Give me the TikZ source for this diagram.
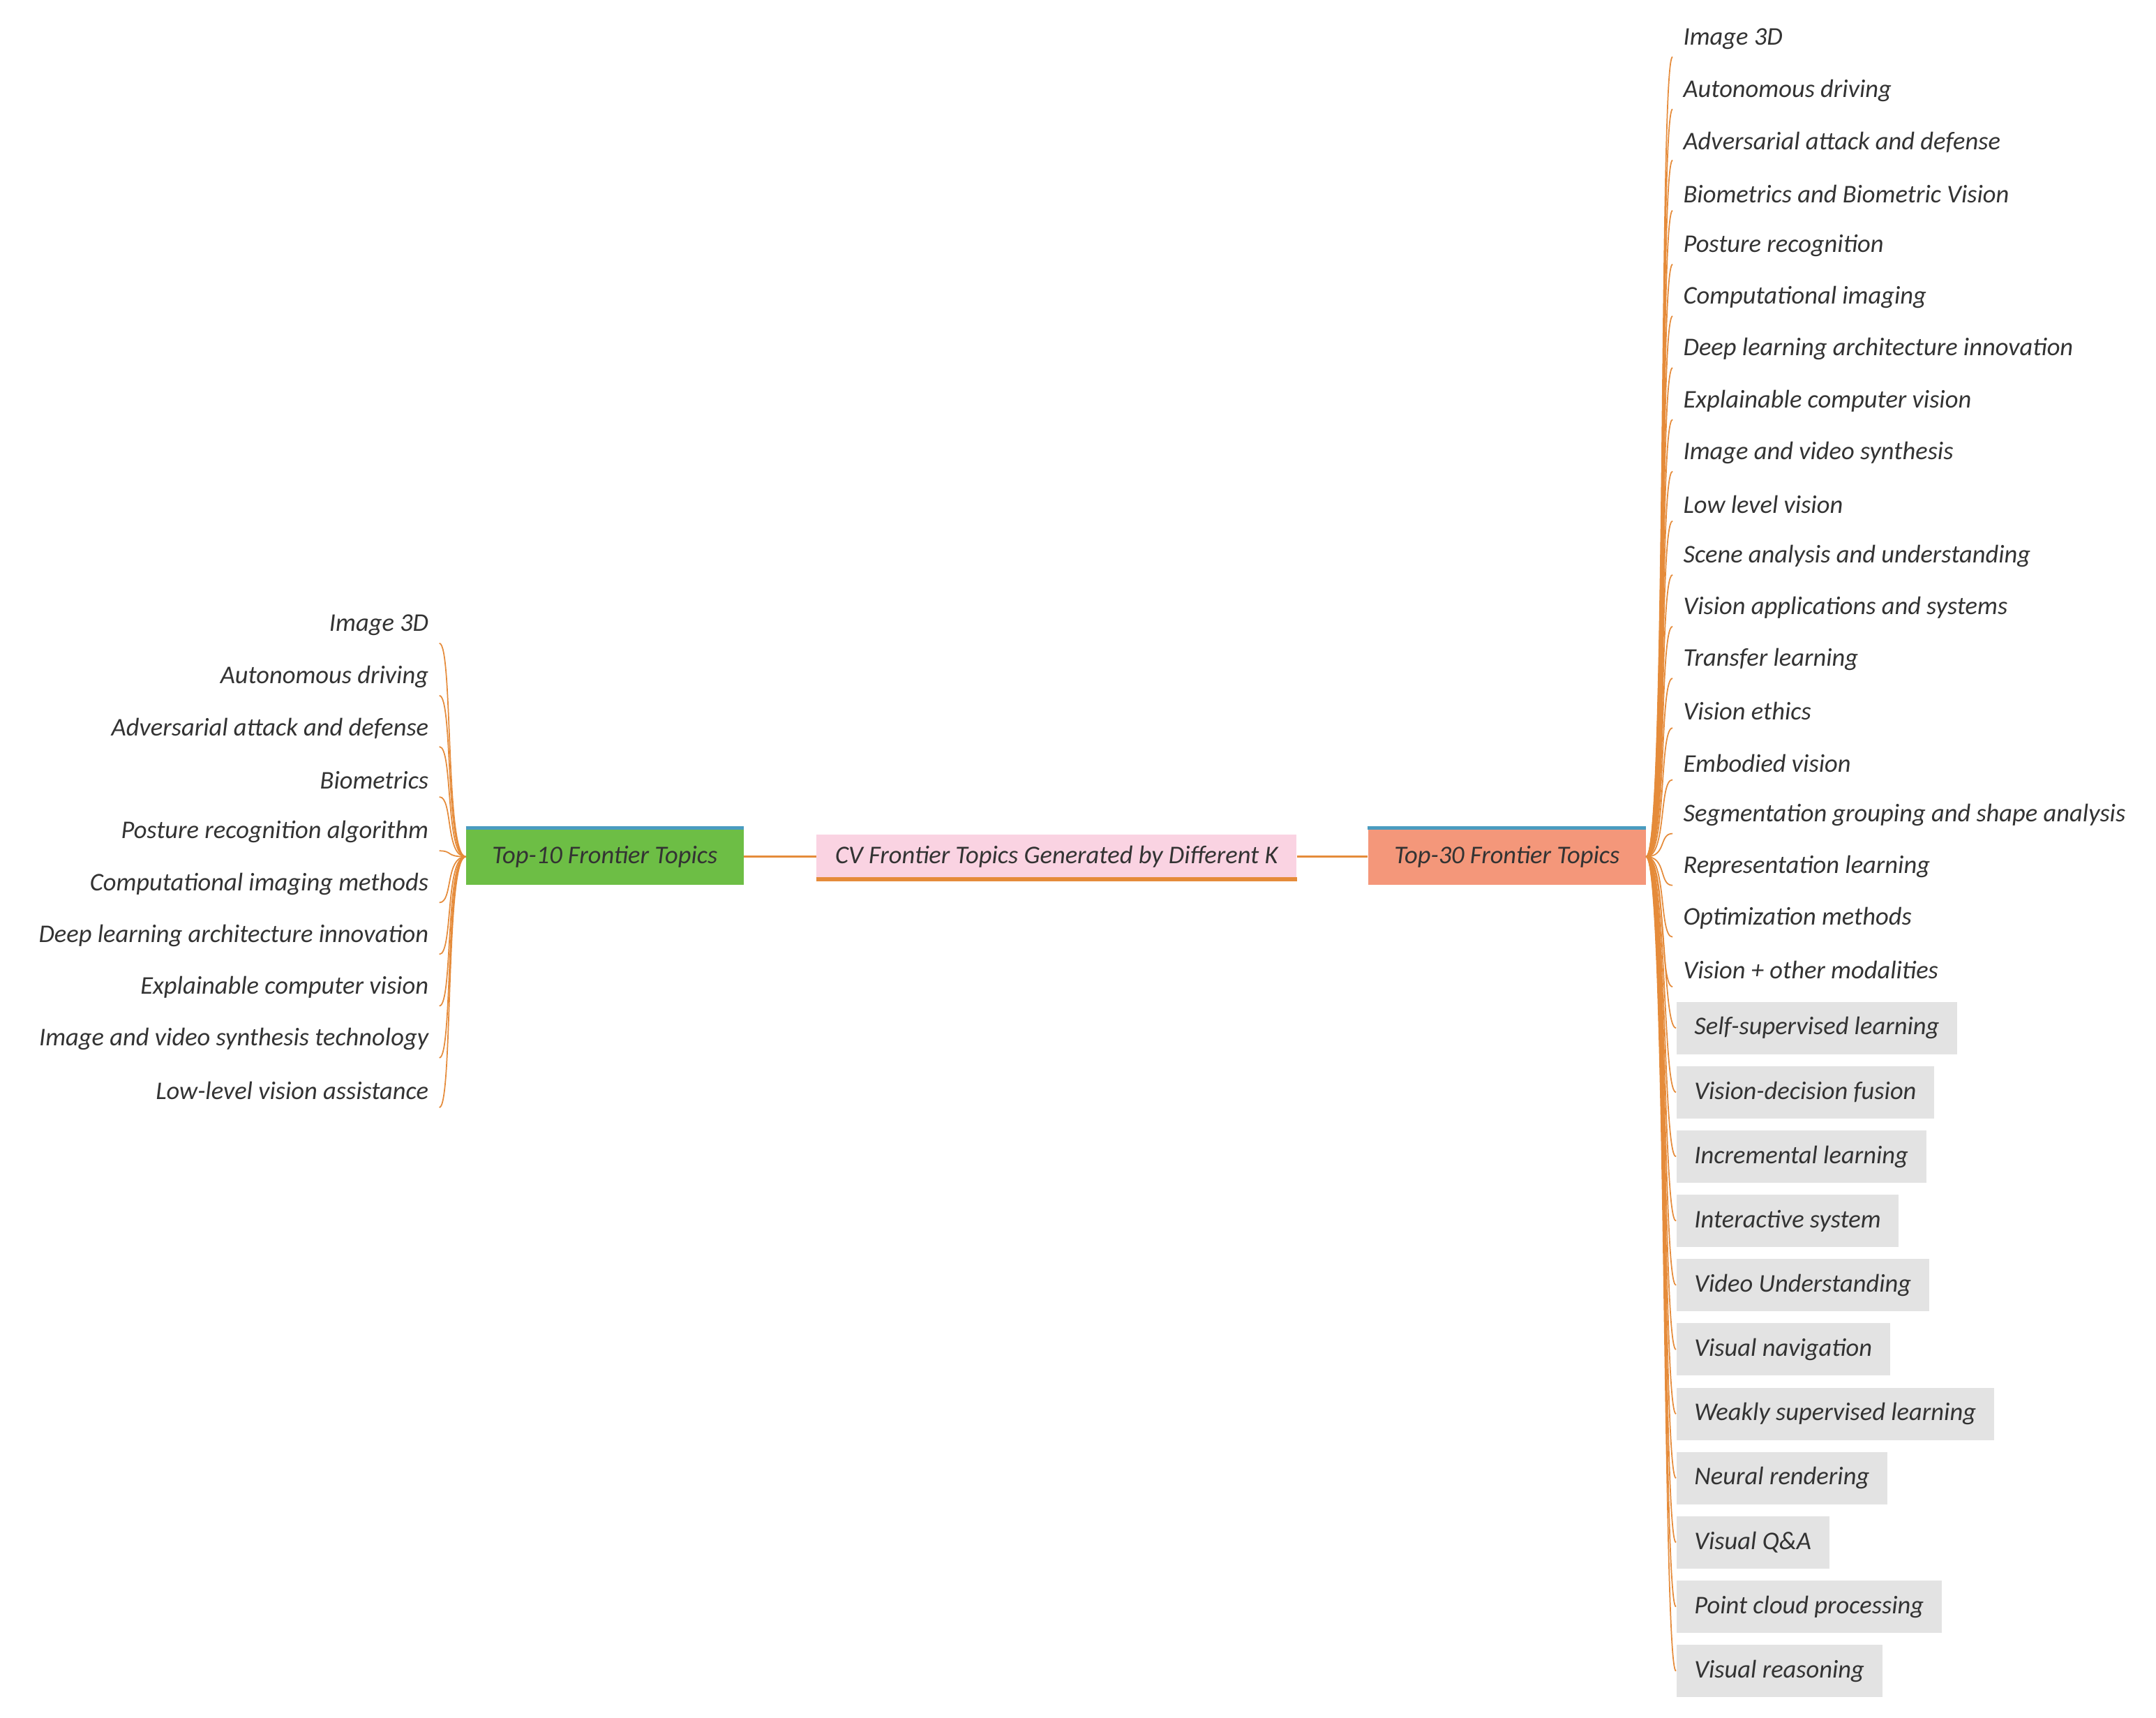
\documentclass[tikz,border=0pt]{standalone}
\usepackage{fontspec}
\setmainfont{Carlito}
\usepackage{tikz}
\usetikzlibrary{positioning}
\definecolor{branch}{HTML}{E58B3A}
\definecolor{topgreen}{HTML}{6DBE45}
\definecolor{toppink}{HTML}{FAD3E2}
\definecolor{topsalmon}{HTML}{F4977A}
\definecolor{topline}{HTML}{4A9CC0}
\begin{document}
\begin{tikzpicture}[every node/.style={font=\itshape\fontsize{10.5}{12}\selectfont, text=black!80},
  leaf/.style={inner xsep=0pt, inner ysep=3pt},
  grayleaf/.style={fill=gray!22, inner xsep=0.26cm, minimum height=0.76cm, inner ysep=0pt},
  topic/.style={minimum width=4.02cm, minimum height=0.82cm, inner sep=0pt},
  link/.style={draw=branch, line width=0.5pt}]
  \useasboundingbox (0,0) rectangle (31.26,-24.9);
  % central topic and the two groups
  \node[fill=toppink, minimum width=6.96cm, minimum height=0.64cm, inner sep=0pt] (root) at (15.32,-12.42) {CV Frontier Topics Generated by Different K};
  \draw[branch, line width=1.5pt] (root.south west) -- (root.south east);
  \node[topic, fill=topgreen] (top10) at (8.77,-12.42) {Top-10 Frontier Topics};
  \draw[topline, line width=1.5pt] (top10.north west) -- (top10.north east);
  \node[topic, fill=topsalmon] (top30) at (21.85,-12.42) {Top-30 Frontier Topics};
  \draw[topline, line width=1.5pt] (top30.north west) -- (top30.north east);
  \draw[link, line width=1pt] (root.west) .. controls +(-0.5,0) and +(0.5,0) .. (top10.east);
  \draw[link, line width=1pt] (root.east) .. controls +(0.5,0) and +(-0.5,0) .. (top30.west);
  % top-10 leaves
  \foreach \txt [count=\i] in {Image 3D, Autonomous driving, Adversarial attack and defense, Biometrics,
      Posture recognition algorithm, Computational imaging methods, Deep learning architecture innovation,
      Explainable computer vision, Image and video synthesis technology, Low-level vision assistance} {
    \node[leaf, anchor=east] (l\i) at (6.22,{-0.02*(453+(\i-1)*37.5)}) {\txt};
    \draw[link] (top10.west) .. controls +(-0.3,0) and +(0.2,0) .. ([xshift=0.15cm]l\i.south east);
  }
  % top-30 leaves
  \foreach \txt [count=\i] in {Image 3D, Autonomous driving, Adversarial attack and defense,
      Biometrics and Biometric Vision, Posture recognition, Computational imaging,
      Deep learning architecture innovation, Explainable computer vision, Image and video synthesis,
      Low level vision, Scene analysis and understanding, Vision applications and systems,
      Transfer learning, Vision ethics, Embodied vision, Segmentation grouping and shape analysis,
      Representation learning, Optimization methods, Vision + other modalities} {
    \node[leaf, anchor=west] (r\i) at (24.4,{-0.02*(28+(\i-1)*37.5)}) {\txt};
    \draw[link] (top30.east) .. controls +(0.3,0) and +(-0.2,0) .. ([xshift=-0.15cm]r\i.south west);
  }
  \foreach \txt [count=\j] in {Self-supervised learning, Vision-decision fusion, Incremental learning,
      Interactive system, Video Understanding, Visual navigation, Weakly supervised learning,
      Neural rendering, Visual Q\&A, Point cloud processing, Visual reasoning} {
    \node[grayleaf, anchor=west] (g\j) at (24.3,{-0.02*(745+(\j-1)*46.6)}) {\txt};
    \draw[link] (top30.east) .. controls +(0.3,0) and +(-0.2,0) .. (g\j.west);
  }
\end{tikzpicture}
\end{document}
